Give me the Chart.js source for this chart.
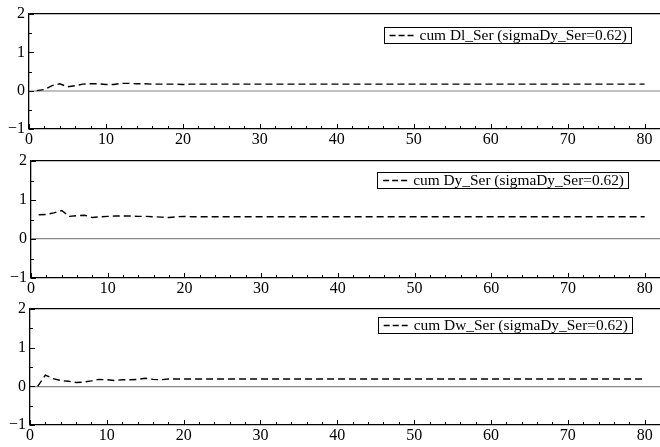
<!DOCTYPE html>
<html>
<head>
<meta charset="utf-8">
<script src="https://cdn.jsdelivr.net/npm/chart.js@4"></script>
<style>
  html, body { margin: 0; padding: 0; background: #fff; }
  #wrap { position: relative; width: 660px; height: 447px; overflow: hidden; }
  #wrap canvas { position: absolute; left: 0; top: 0; }
</style>
</head>
<body>
<div id="wrap">
  <canvas id="panel-dl" width="660" height="447"></canvas>
  <canvas id="panel-dy" width="660" height="447"></canvas>
  <canvas id="panel-dw" width="660" height="447"></canvas>
</div>
<script>
// Horizons 1..80
const horizons = [
  1, 2, 3, 4, 5, 6, 7, 8, 9, 10, 11, 12, 13, 14, 15, 16, 17, 18, 19, 20,
  21, 22, 23, 24, 25, 26, 27, 28, 29, 30, 31, 32, 33, 34, 35, 36, 37, 38, 39, 40,
  41, 42, 43, 44, 45, 46, 47, 48, 49, 50, 51, 52, 53, 54, 55, 56, 57, 58, 59, 60,
  61, 62, 63, 64, 65, 66, 67, 68, 69, 70, 71, 72, 73, 74, 75, 76, 77, 78, 79, 80
];

// cumulative responses
const dlSer = [
  0.00, 0.03, 0.13, 0.18, 0.10, 0.13, 0.17, 0.18, 0.18, 0.16, 0.16, 0.19, 0.19, 0.18, 0.18, 0.17, 0.17, 0.17, 0.17, 0.16,
  0.17, 0.17, 0.17, 0.17, 0.17, 0.17, 0.17, 0.17, 0.17, 0.17, 0.17, 0.17, 0.17, 0.17, 0.17, 0.17, 0.17, 0.17, 0.17, 0.17,
  0.17, 0.17, 0.17, 0.17, 0.17, 0.17, 0.17, 0.17, 0.17, 0.17, 0.17, 0.17, 0.17, 0.17, 0.17, 0.17, 0.17, 0.17, 0.17, 0.17,
  0.17, 0.17, 0.17, 0.17, 0.17, 0.17, 0.17, 0.17, 0.17, 0.17, 0.17, 0.17, 0.17, 0.17, 0.17, 0.17, 0.17, 0.17, 0.17, 0.17
];
const dySer = [
  0.62, 0.63, 0.67, 0.73, 0.58, 0.60, 0.61, 0.55, 0.57, 0.58, 0.59, 0.59, 0.59, 0.58, 0.58, 0.57, 0.56, 0.55, 0.57, 0.58,
  0.57, 0.57, 0.57, 0.57, 0.57, 0.57, 0.57, 0.57, 0.57, 0.57, 0.57, 0.57, 0.57, 0.57, 0.57, 0.57, 0.57, 0.57, 0.57, 0.57,
  0.57, 0.57, 0.57, 0.57, 0.57, 0.57, 0.57, 0.57, 0.57, 0.57, 0.57, 0.57, 0.57, 0.57, 0.57, 0.57, 0.57, 0.57, 0.57, 0.57,
  0.57, 0.57, 0.57, 0.57, 0.57, 0.57, 0.57, 0.57, 0.57, 0.57, 0.57, 0.57, 0.57, 0.57, 0.57, 0.57, 0.57, 0.57, 0.57, 0.57
];
const dwSer = [
  0.00, 0.29, 0.20, 0.15, 0.13, 0.10, 0.11, 0.14, 0.18, 0.17, 0.15, 0.17, 0.17, 0.18, 0.21, 0.18, 0.17, 0.19, 0.19, 0.19,
  0.19, 0.19, 0.19, 0.19, 0.19, 0.19, 0.19, 0.19, 0.19, 0.19, 0.19, 0.19, 0.19, 0.19, 0.19, 0.19, 0.19, 0.19, 0.19, 0.19,
  0.19, 0.19, 0.19, 0.19, 0.19, 0.19, 0.19, 0.19, 0.19, 0.19, 0.19, 0.19, 0.19, 0.19, 0.19, 0.19, 0.19, 0.19, 0.19, 0.19,
  0.19, 0.19, 0.19, 0.19, 0.19, 0.19, 0.19, 0.19, 0.19, 0.19, 0.19, 0.19, 0.19, 0.19, 0.19, 0.19, 0.19, 0.19, 0.19, 0.19
];

const seriesLabels = [
  'cum Dl_Ser (sigmaDy_Ser=0.62)',
  'cum Dy_Ser (sigmaDy_Ser=0.62)',
  'cum Dw_Ser (sigmaDy_Ser=0.62)'
];

const xTickLabels = [0, 10, 20, 30, 40, 50, 60, 70, 80];
const yTickLabels = [-1, 0, 1, 2];

const H = 447;
const FONT = 'Liberation Serif';
Chart.defaults.font.family = FONT;
Chart.defaults.color = '#000';

// small inward ticks, major every 10 / 1, minor every 2 / 0.5
const innerTicks = {
    id: 'innerTicks',
    afterDraw(chart) {
        const { ctx, chartArea: a, scales: { x, y } } = chart;
        ctx.save();
        ctx.strokeStyle = '#000';
        ctx.lineWidth = 1;
        ctx.beginPath();
        for (let v = x.min; v <= x.max; v += 2) {
            const px = Math.round(x.getPixelForValue(v)) + 0.5;
            const len = v % 10 === 0 ? 5 : 3;
            ctx.moveTo(px, a.bottom);
            ctx.lineTo(px, a.bottom - len);
        }
        for (let v = y.min; v <= y.max; v += 0.5) {
            const py = Math.round(y.getPixelForValue(v)) + 0.5;
            const len = Number.isInteger(v) ? 5 : 3;
            ctx.moveTo(a.left, py);
            ctx.lineTo(a.left + len, py);
        }
        ctx.stroke();
        ctx.restore();
    }
};

// boxed legend inside the plot
const boxLegend = {
    id: 'boxLegend',
    afterDraw(chart, args, opts) {
        const ctx = chart.ctx;
        const text = chart.data.datasets[0].label;
        ctx.save();
        ctx.font = '15.4px "' + FONT + '"';
        const w = ctx.measureText(text).width;
        const right = opts.right, top = opts.top, h = 16;
        const tx = right - 4 - w;
        const left = tx - 36;
        ctx.fillStyle = '#fff';
        ctx.fillRect(left, top, right - left, h);
        ctx.strokeStyle = '#000';
        ctx.lineWidth = 1;
        ctx.strokeRect(Math.round(left) + 0.5, top + 0.5, Math.round(right - left), h);
        ctx.setLineDash([6, 3]);
        ctx.lineWidth = 1.4;
        ctx.beginPath();
        ctx.moveTo(tx - 30, top + h / 2 + 0.5);
        ctx.lineTo(tx - 5, top + h / 2 + 0.5);
        ctx.stroke();
        ctx.setLineDash([]);
        ctx.fillStyle = '#000';
        ctx.textBaseline = 'middle';
        ctx.fillText(text, tx, top + h / 2 + 1);
        ctx.restore();
    }
};

const panels = [
    { id: 'panel-dl', values: dlSer, label: seriesLabels[0], top: 14, bottom: 129, left: 29,
      zeroColor: '#c0c0c0', zeroWidth: 2, legendRight: 631, legendTop: 27 },
    { id: 'panel-dy', values: dySer, label: seriesLabels[1], top: 161, bottom: 278, left: 31,
      zeroColor: '#888', zeroWidth: 1.2, legendRight: 628, legendTop: 172 },
    { id: 'panel-dw', values: dwSer, label: seriesLabels[2], top: 309, bottom: 425, left: 30,
      zeroColor: '#888', zeroWidth: 1.2, legendRight: 632, legendTop: 317 }
];

panels.forEach(p => {
    new Chart(document.getElementById(p.id), {
        type: 'line',
        data: {
            datasets: [{
                label: p.label,
                data: horizons.map((h, i) => ({ x: h, y: p.values[i] })),
                borderColor: '#000',
                borderWidth: 1.4,
                borderDash: [7, 4],
                pointRadius: 0,
                tension: 0,
                fill: false
            }]
        },
        options: {
            responsive: false,
            animation: false,
            layout: { padding: { top: p.top, left: 0, right: 0, bottom: 0 } },
            plugins: {
                legend: { display: false },
                tooltip: { enabled: false },
                boxLegend: { right: p.legendRight, top: p.legendTop }
            },
            scales: {
                x: {
                    type: 'linear',
                    min: 0,
                    max: 82,
                    afterBuildTicks: s => { s.ticks = xTickLabels.map(v => ({ value: v })); },
                    afterFit: s => { s.height = H - p.bottom; },
                    grid: { display: false, drawTicks: false },
                    border: { color: '#000', width: 1.3 },
                    ticks: { color: '#000', font: { size: 16 }, padding: 1, maxRotation: 0, autoSkip: false }
                },
                y: {
                    min: -1,
                    max: 2,
                    afterBuildTicks: s => { s.ticks = yTickLabels.map(v => ({ value: v })); },
                    afterFit: s => { s.width = p.left; },
                    grid: {
                        drawTicks: false,
                        color: c => c.tick.value === 0 ? p.zeroColor : (c.tick.value === 2 ? '#000' : 'rgba(0,0,0,0)'),
                        lineWidth: c => c.tick.value === 0 ? p.zeroWidth : 1.3
                    },
                    border: { color: '#000', width: 1.3 },
                    ticks: {
                        color: '#000',
                        font: { size: 16 },
                        padding: 4,
                        callback: v => v < 0 ? '\u2212' + Math.abs(v) : String(v)
                    }
                }
            }
        },
        plugins: [innerTicks, boxLegend]
    });
});
</script>
</body>
</html>
